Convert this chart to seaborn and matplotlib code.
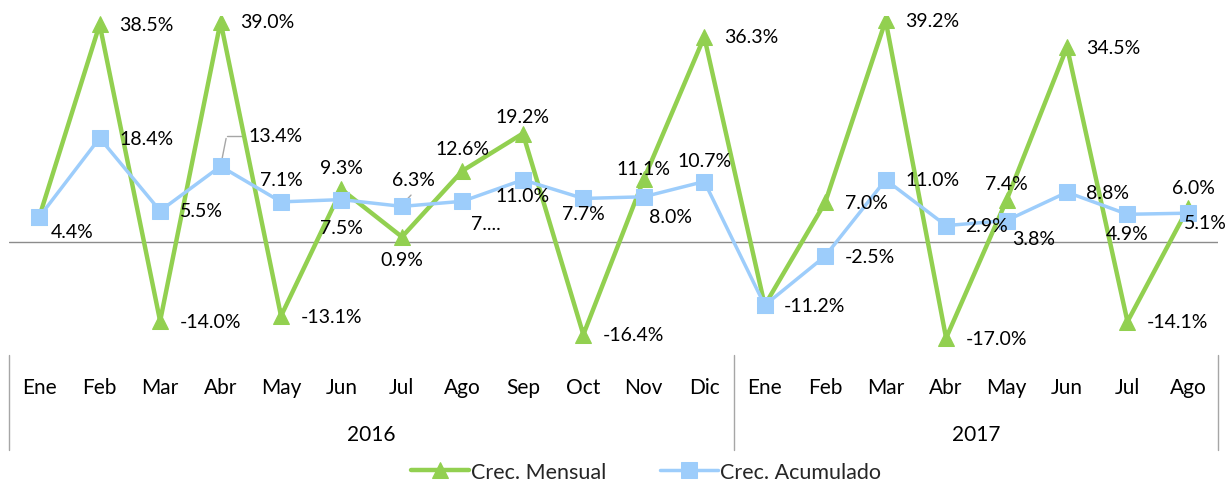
import numpy as np
import pandas as pd
import matplotlib
matplotlib.use('Agg')
import matplotlib.pyplot as plt
import seaborn as sns

# data
months = ['Ene', 'Feb', 'Mar', 'Abr', 'May', 'Jun', 'Jul', 'Ago', 'Sep', 'Oct', 'Nov', 'Dic',
          'Ene', 'Feb', 'Mar', 'Abr', 'May', 'Jun', 'Jul', 'Ago']
years = ['2016', '2017']
year_len = [12, 8]
mensual = [4.4, 38.5, -14.0, 39.0, -13.1, 9.3, 0.9, 12.6, 19.2, -16.4, 11.1, 36.3,
           -11.2, 7.0, 39.2, -17.0, 7.4, 34.5, -14.1, 6.0]
acumulado = [4.4, 18.4, 5.5, 13.4, 7.1, 7.5, 6.3, 7.2, 11.0, 7.7, 8.0, 10.7,
             -11.2, -2.5, 11.0, 2.9, 3.8, 8.8, 4.9, 5.1]
mensual_labels = [None, '38.5%', '-14.0%', '39.0%', '-13.1%', '9.3%', '0.9%', '12.6%', '19.2%',
                  '-16.4%', '11.1%', '36.3%', None, '7.0%', '39.2%', '-17.0%', '7.4%', '34.5%',
                  '-14.1%', '6.0%']
acumulado_labels = ['4.4%', '18.4%', '5.5%', '13.4%', '7.1%', '7.5%', '6.3%', '7....', '11.0%',
                    '7.7%', '8.0%', '10.7%', '-11.2%', '-2.5%', '11.0%', '2.9%', '3.8%', '8.8%',
                    '4.9%', '5.1%']

# label placement (offset in points from the marker, horizontal alignment)
R = (14, 0, 'left')
A = (0, 16, 'center')
B = (0, -16, 'center')
mensual_pos = [None, R, R, R, R, A, B, A, (0, 12, 'center'), R, (0, 8, 'center'), R, None,
               R, R, R, (0, 12, 'center'), R, R, (4, 15, 'center')]
acumulado_pos = [(8, -10, 'left'), R, R, (20, 22, 'left'), A, (0, -20, 'center'), (8, 19, 'center'),
                 (6, -16, 'left'), (0, -11, 'center'), (0, -11, 'center'), (4, -14, 'left'),
                 (0, 15, 'center'), R, R, R, R, (4, -13, 'left'), R, (0, -14, 'center'),
                 (-3, -7, 'left')]

green = '#92D050'
blue = '#9DCDFB'

sns.set_style('white')
plt.rcParams['font.family'] = ['Lato', 'DejaVu Sans']

df = pd.DataFrame({'x': np.arange(len(months)), 'mensual': mensual, 'acumulado': acumulado})

fig, ax = plt.subplots(figsize=(12.28, 4.85), dpi=100)
fig.subplots_adjust(left=0.0073, right=0.992, top=0.965, bottom=0.266)

sns.lineplot(data=df, x='x', y='mensual', ax=ax, color=green, lw=3.2, marker='^',
             markersize=12, markeredgecolor=green, label='Crec. Mensual', zorder=3)
sns.lineplot(data=df, x='x', y='acumulado', ax=ax, color=blue, lw=2.5, marker='s',
             markersize=11, markeredgecolor=blue, label='Crec. Acumulado', zorder=4)

ax.axhline(0, color='#8C8C8C', lw=1, zorder=1)
ax.set_xlim(-0.5, len(months) - 0.5)
ax.set_ylim(-20, 40)
ax.set_xticks([])
ax.set_yticks([])
ax.set_xlabel('')
ax.set_ylabel('')
for s in ax.spines.values():
    s.set_visible(False)

for vals, labs, pos in [(mensual, mensual_labels, mensual_pos), (acumulado, acumulado_labels, acumulado_pos)]:
    for i, (v, t, p) in enumerate(zip(vals, labs, pos)):
        if t is None:
            continue
        ax.annotate(t, (i, v), xytext=(p[0], p[1]), textcoords='offset points',
                    ha=p[2], va='center', fontsize=14, color='black', zorder=5)

# leader lines for two of the labels
ax.annotate('', (3, 13.4), xytext=(3.1, 18.8), arrowprops=dict(arrowstyle='-', color='#A6A6A6', lw=1))
ax.plot([3.1, 3.35], [18.8, 18.8], color='#A6A6A6', lw=1)
ax.plot([6.0, 6.15], [6.6, 8.3], color='#A6A6A6', lw=1)

# category axis: months, years and separators
tr = ax.get_xaxis_transform()
for i, m in enumerate(months):
    ax.text(i, -0.094, m, transform=tr, ha='center', va='center', fontsize=15, color='black')
start = 0
edges = [-0.5]
for y, n in zip(years, year_len):
    ax.text(start + (n - 1) / 2, -0.233, y, transform=tr, ha='center', va='center',
            fontsize=15, color='black')
    start += n
    edges.append(start - 0.5)
for e in edges:
    ax.plot([e, e], [-0.0, -0.28], transform=tr, color='#A6A6A6', lw=1, clip_on=False)

ax.legend_.remove()
h, l = ax.get_legend_handles_labels()
fig.legend(h, l, loc='lower center', bbox_to_anchor=(0.526, -0.035), ncol=2, frameon=False,
           fontsize=15.5, handlelength=2.7, columnspacing=2.5, handletextpad=0.1)

fig.savefig('out.png', dpi=100)
